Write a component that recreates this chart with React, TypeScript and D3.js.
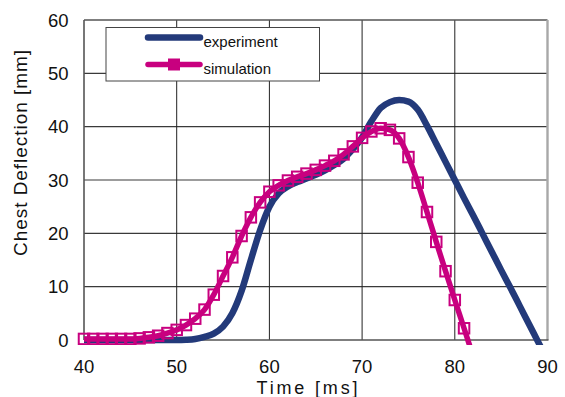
import React from "react";
import * as d3 from "d3";

const expTime = [40, 41, 42, 43, 44, 45, 46, 47, 48, 49, 50, 51, 52, 53, 54, 55, 56, 57, 58, 59, 60, 61, 62, 63, 64, 65, 66, 67, 68, 69, 70, 71, 72, 73, 74, 75, 76, 77, 78, 79, 80, 81, 82, 83, 84, 85, 86, 87, 88, 89, 90];
const expDeflection = [0, 0, 0, 0, 0, 0, 0, 0, 0, 0, 0, 0.05, 0.2, 0.6, 1.2, 2.5, 5, 9.2, 15, 20.6, 25, 27.5, 28.8, 29.6, 30.3, 31.0, 31.8, 32.8, 34.0, 35.8, 38.0, 41.0, 43.5, 44.6, 45.0, 44.7, 43.2, 40.2, 36.8, 33.4, 30.0, 26.6, 23.3, 19.9, 16.5, 13.1, 9.8, 6.4, 3.0, -0.4, -3.8];

const simTime = [40, 41, 42, 43, 44, 45, 46, 47, 48, 49, 50, 51, 52, 53, 54, 55, 56, 57, 58, 59, 60, 61, 62, 63, 64, 65, 66, 67, 68, 69, 70, 71, 72, 73, 74, 75, 76, 77, 78, 79, 80, 81, 82];
const simDeflection = [0.2, 0.2, 0.2, 0.2, 0.2, 0.2, 0.3, 0.5, 0.8, 1.3, 1.9, 2.8, 4.0, 5.7, 8.5, 12.0, 15.5, 19.5, 23.0, 25.8, 27.8, 29.0, 29.9, 30.6, 31.2, 31.9, 32.7, 33.6, 34.8, 36.3, 37.9, 39.1, 39.7, 39.4, 37.8, 34.3, 29.5, 24.0, 18.4, 12.9, 7.5, 2.2, -3.2];

const xTicks = [40, 50, 60, 70, 80, 90];
const yTicks = [0, 10, 20, 30, 40, 50, 60];
const seriesNames = ["experiment", "simulation"];
const xTitle = "Time [ms]";
const yTitle = "Chest Deflection [mm]";

const NAVY = "#233a7a";
const MAGENTA = "#c8007f";
const FONT = "'Liberation Sans', Arial, sans-serif";

export default function App() {
  const W = 565;
  const H = 397;
  const x = d3.scaleLinear().domain([40, 90]).range([84, 547.5]);
  const y = d3.scaleLinear().domain([0, 60]).range([340, 20]);

  const line = d3
    .line<[number, number]>()
    .x((d) => x(d[0]))
    .y((d) => y(d[1]))
    .curve(d3.curveMonotoneX);

  const expPts: [number, number][] = expTime.map((t, i) => [t, expDeflection[i]]);
  const simPts: [number, number][] = simTime.map((t, i) => [t, simDeflection[i]]);

  const x0 = x(40);
  const x1 = x(90);
  const y0 = y(0);
  const y1 = y(60);
  const ms = 10.5;

  return (
    <svg
      width={W}
      height={H}
      style={{ position: "absolute", left: 0, top: 0, background: "#fff" }}
      fontFamily={FONT}
    >
      <defs>
        <clipPath id="plotClip">
          <rect x={0} y={0} width={W} height={y0 + 5} />
        </clipPath>
      </defs>
      <rect x={0} y={0} width={W} height={H} fill="#fff" />

      {/* gridlines */}
      {yTicks
        .filter((v) => v > 0 && v < 60)
        .map((v) => (
          <line key={"gy" + v} x1={x0} x2={x1} y1={y(v)} y2={y(v)} stroke="#3a3a3a" strokeWidth={1.1} />
        ))}
      {xTicks
        .filter((v) => v > 40 && v < 90)
        .map((v) => (
          <line key={"gx" + v} x1={x(v)} x2={x(v)} y1={y1} y2={y0} stroke="#222" strokeWidth={1} />
        ))}

      {/* plot border */}
      <line x1={x0} x2={x1} y1={y1} y2={y1} stroke="#555" strokeWidth={1.3} />
      <line x1={x1} x2={x1} y1={y1} y2={y0} stroke="#a8a8a8" strokeWidth={2.4} />
      <line x1={x0} x2={x0} y1={y1} y2={y0} stroke="#555" strokeWidth={1.6} />
      <line x1={x0} x2={x1 + 1} y1={y0} y2={y0} stroke="#555" strokeWidth={1.6} />

      {/* series */}
      <g clipPath="url(#plotClip)">
        <path d={line(expPts) || ""} fill="none" stroke={NAVY} strokeWidth={6.5} strokeLinejoin="round" />
        <path d={line(simPts) || ""} fill="none" stroke={MAGENTA} strokeWidth={5.5} strokeLinejoin="round" />
        {simPts.map((d, i) => (
          <rect
            key={"m" + i}
            x={x(d[0]) - ms / 2}
            y={y(d[1]) - ms / 2}
            width={ms}
            height={ms}
            fill="none"
            stroke={MAGENTA}
            strokeWidth={2}
          />
        ))}
      </g>

      {/* tick labels */}
      {xTicks.map((v) => (
        <text key={"tx" + v} x={x(v)} y={373} textAnchor="middle" fontSize={18.5} fill="#111">
          {v}
        </text>
      ))}
      {yTicks.map((v) => (
        <text key={"ty" + v} x={68.5} y={y(v)} dy="0.36em" textAnchor="end" fontSize={18.5} fill="#111">
          {v}
        </text>
      ))}

      {/* axis titles */}
      <text x={307} y={393.5} textAnchor="middle" fontSize={18} fill="#111" textLength={101} lengthAdjust="spacing">
        {xTitle}
      </text>
      <text
        transform={`translate(27,153) rotate(-90)`}
        textAnchor="middle"
        fontSize={19}
        fill="#111"
        textLength={206}
        lengthAdjust="spacing"
      >
        {yTitle}
      </text>

      {/* legend */}
      <rect x={106} y={27.5} width={213.5} height={53.5} fill="#fff" stroke="#444" strokeWidth={1} />
      <line x1={148} x2={200} y1={37.5} y2={37.5} stroke={NAVY} strokeWidth={6.5} strokeLinecap="round" />
      <text x={203.5} y={46.5} fontSize={15} fill="#111">
        {seriesNames[0]}
      </text>
      <line x1={148} x2={200} y1={64.5} y2={64.5} stroke={MAGENTA} strokeWidth={5.5} strokeLinecap="round" />
      <rect x={169} y={59.5} width={10} height={10} fill={MAGENTA} stroke={MAGENTA} strokeWidth={2} />
      <text x={203.5} y={73.5} fontSize={15} fill="#111">
        {seriesNames[1]}
      </text>
    </svg>
  );
}
